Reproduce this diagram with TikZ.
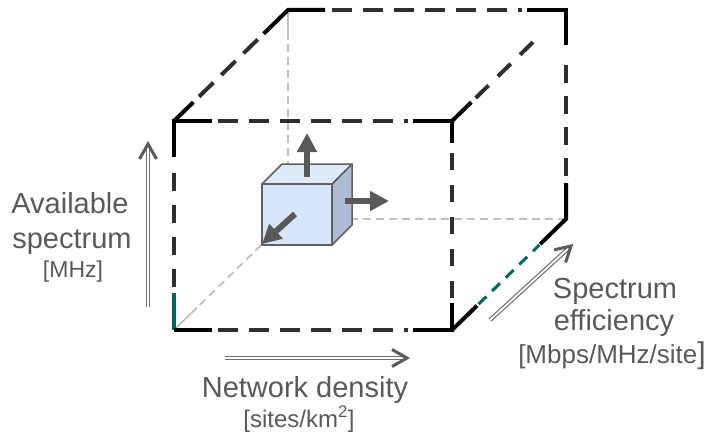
\documentclass[tikz,border=0pt]{standalone}
\usepackage{fontspec}
\setmainfont{Liberation Sans}
\usetikzlibrary{calc,arrows.meta}
\definecolor{edgedark}{HTML}{2E2E2E}
\definecolor{tealc}{HTML}{00665E}
\definecolor{hiddenc}{HTML}{C0C0C0}
\definecolor{txtc}{HTML}{595959}
\definecolor{axisc}{HTML}{6F6F6F}
\definecolor{frontc}{HTML}{D7E6FA}
\definecolor{topc}{HTML}{DFEAFB}
\definecolor{sidec}{HTML}{ABBCD4}
\definecolor{cubeline}{HTML}{606060}
\definecolor{arrc}{HTML}{595959}
\newcommand\axishead[2]{%
  \coordinate (hq) at ($(#1)!15pt!(#2)$);
  \draw[headline] ($(hq)!8.5pt!90:(#1)$) -- (#1) -- ($(hq)!8.5pt!-90:(#1)$);}
\begin{document}
\begin{tikzpicture}[x=1pt,y=-1pt,
  solidedge/.style={line width=4pt,black,line join=miter},
  dashedge/.style={line width=4pt,edgedark},
  tealsolid/.style={line width=4pt,tealc},
  tealdash/.style={line width=3pt,tealc,dash pattern=on 11pt off 8pt},
  hiddenline/.style={line width=1.8pt,hiddenc},
  hiddendash/.style={line width=1.8pt,hiddenc,dash pattern=on 8pt off 5pt},
  face/.style={draw=cubeline,line width=1.5pt,line join=round},
  bigarrow/.style={line width=6pt,arrc,-{Triangle[length=19pt,width=19pt]}},
  shaft/.style={draw=axisc,double=white,double distance=1.8pt,line width=1.2pt},
  headline/.style={draw=arrc,line width=3pt,line join=miter},
  lbl/.style={text=txtc,inner sep=0pt,anchor=base,font=\fontsize{29}{34}\selectfont}]
\useasboundingbox (0,0) rectangle (711,436);
% big cube corners
\coordinate (FTL) at (174,121);
\coordinate (FTR) at (452,121);
\coordinate (FBL) at (174,330);
\coordinate (FBR) at (452,330);
\coordinate (BTL) at (288,10);
\coordinate (BTR) at (566,10);
\coordinate (BBR) at (566,219);
\coordinate (BBL) at (288,219);
% hidden edges
\draw[hiddenline] (BTL) -- ($(BTL)!30pt!(BBL)$);
\draw[hiddendash] ($(BTL)!34pt!(BBL)$) -- (BBL);
\draw[hiddendash] (BBR) -- (BBL);
\draw[hiddenline] (FBL) -- ($(FBL)!32pt!(BBL)$);
\draw[hiddendash] ($(FBL)!36pt!(BBL)$) -- (BBL);
% solid corner pieces
\draw[solidedge] ($(FTL)!38pt!(FTR)$) -- (FTL) -- ($(FTL)!36pt!(FBL)$);
\draw[solidedge] (FTL) -- ($(FTL)!27pt!(BTL)$);
\draw[solidedge] ($(FTR)!39pt!(FTL)$) -- (FTR) -- ($(FTR)!22pt!(FBR)$);
\draw[solidedge] (FTR) -- ($(FTR)!27pt!(BTR)$);
\draw[tealsolid] ($(FBL)!37pt!(FTL)$) -- (FBL);
\draw[solidedge,line cap=square] (FBL) -- ($(FBL)!38pt!(FBR)$);
\draw[solidedge] ($(FBR)!27pt!(FTR)$) -- (FBR) -- ($(FBR)!39pt!(FBL)$);
\draw[solidedge] (FBR) -- ($(FBR)!35pt!(BBR)$);
\draw[solidedge] ($(BTL)!34pt!(FTL)$) -- (BTL) -- ($(BTL)!37pt!(BTR)$);
\draw[solidedge] ($(BTR)!39pt!(BTL)$) -- (BTR) -- ($(BTR)!35pt!(BBR)$);
\draw[solidedge] ($(BBR)!36pt!(BTR)$) -- (BBR) -- ($(BBR)!36pt!(FBR)$);
% dashed middles
\draw[dashedge,dash pattern=on 20pt off 11pt] ($(FTL)!44pt!(FTR)$) -- ($(FTL)!219pt!(FTR)$);
\draw[dashedge] ($(FTL)!230pt!(FTR)$) -- ($(FTL)!234pt!(FTR)$);
\draw[dashedge,dash pattern=on 20pt off 11pt] ($(FBL)!44pt!(FBR)$) -- ($(FBL)!219pt!(FBR)$);
\draw[dashedge] ($(FBL)!230pt!(FBR)$) -- ($(FBL)!234pt!(FBR)$);
\draw[dashedge,dash pattern=on 20pt off 11pt] ($(BTL)!44pt!(BTR)$) -- ($(BTL)!219pt!(BTR)$);
\draw[dashedge] ($(BTL)!230pt!(BTR)$) -- ($(BTL)!234pt!(BTR)$);
\draw[dashedge,dash pattern=on 18pt off 14pt] ($(FTL)!52pt!(FBL)$) -- ($(FTL)!166pt!(FBL)$);
\draw[dashedge,dash pattern=on 17pt off 15pt] ($(FTR)!32pt!(FBR)$) -- ($(FTR)!177pt!(FBR)$);
\draw[dashedge,dash pattern=on 18pt off 13pt] ($(BTR)!55pt!(BBR)$) -- ($(BTR)!166pt!(BBR)$);
\draw[dashedge,dash pattern=on 20pt off 11pt] ($(FTL)!35pt!(BTL)$) -- ($(FTL)!117pt!(BTL)$);
\draw[dashedge,dash pattern=on 18pt off 13pt] ($(FTR)!33pt!(BTR)$) -- ($(FTR)!113pt!(BTR)$);
\draw[tealdash] ($(FBR)!37pt!(BBR)$) -- ($(FBR)!122pt!(BBR)$);
% small cube
\coordinate (s1) at (262,184);
\coordinate (s2) at (332,184);
\coordinate (s3) at (332,245);
\coordinate (s4) at (262,245);
\coordinate (s5) at (282,164);
\coordinate (s6) at (352,164);
\coordinate (s7) at (352,225);
\filldraw[face,fill=sidec] (s2) -- (s6) -- (s7) -- (s3) -- cycle;
\filldraw[face,fill=topc] (s1) -- (s5) -- (s6) -- (s2) -- cycle;
\filldraw[face,fill=frontc] (s1) -- (s2) -- (s3) -- (s4) -- cycle;
% cube arrows
\coordinate (ua) at (307,177); \coordinate (ub) at (307,133);
\coordinate (ra) at (345,201); \coordinate (rb) at (389,201);
\coordinate (da) at (295,214); \coordinate (db) at (262,244);
\draw[bigarrow] (ua) -- (ub);
\draw[bigarrow] (ra) -- (rb);
\draw[bigarrow] (da) -- (db);
% axis arrows
\coordinate (va) at (148,307); \coordinate (vb) at (148,144);
\coordinate (ha) at (225,358); \coordinate (hb) at (407,358);
\coordinate (ga) at (490,320); \coordinate (gb) at (571,246);
\draw[shaft] (va) -- ($(vb)!1pt!(va)$);
\axishead{vb}{va}
\draw[shaft] (ha) -- ($(hb)!1pt!(ha)$);
\axishead{hb}{ha}
\draw[shaft] (ga) -- ($(gb)!1pt!(ga)$);
\axishead{gb}{ga}
% labels
\node[lbl] (t1) at (70,213) {Available};
\node[lbl] (t2) at (72,248) {spectrum};
\node[lbl,font=\fontsize{23}{28}\selectfont] (t3) at (73,277) {[MHz]};
\node[lbl] (t4) at (305,397) {Network density};
\node[lbl,font=\fontsize{24}{28}\selectfont] (t5) at (299,427) {[sites/km\textsuperscript{2}]};
\node[lbl] (t6) at (615,298) {Spectrum};
\node[lbl] (t7) at (614,330) {efficiency};
\node[lbl,font=\fontsize{26}{30}\selectfont] (t8) at (612,363) {[Mbps/MHz/site{\fontsize{30}{30}\selectfont]}};
\end{tikzpicture}
\end{document}
